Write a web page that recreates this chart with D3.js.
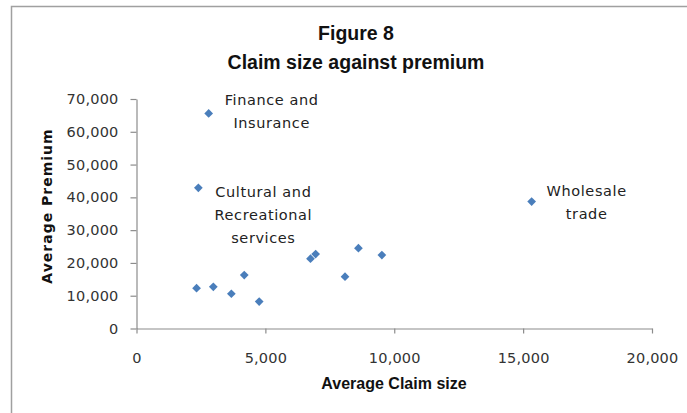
<!DOCTYPE html>
<html>
<head>
<meta charset="utf-8">
<script src="https://cdn.jsdelivr.net/npm/d3@7"></script>
<style>
  html, body { margin: 0; padding: 0; background: #fff; }
  svg { display: block; }
</style>
</head>
<body>
<svg id="chart" width="687" height="413"></svg>
<script>
// Average claim size vs. average premium by industry
const claimSize = [2800, 2400, 15330, 2330, 2980, 3680, 4180, 4760, 6750, 6950, 8090, 8610, 9520];
const premium   = [65600, 42900, 38700, 12300, 12700, 10600, 16300, 8200, 21300, 22700, 15800, 24500, 22400];

// Labelled outliers: index into the arrays above, label lines
const labelIndex = [0, 1, 2];
const labelLines = [
  ["Finance and", "Insurance"],
  ["Cultural and", "Recreational", "services"],
  ["Wholesale", "trade"]
];

const xTicks = [0, 5000, 10000, 15000, 20000];
const yTicks = [0, 10000, 20000, 30000, 40000, 50000, 60000, 70000];

const titleLines = ["Figure 8", "Claim size against premium"];
const xTitle = "Average Claim size";
const yTitle = "Average Premium";

const svg = d3.select("#chart");

// chart frame (runs past right/bottom edges)
svg.append("rect")
  .attr("x", 11.5).attr("y", 6.5)
  .attr("width", 700).attr("height", 420)
  .attr("fill", "#fff")
  .attr("stroke", "#a0a0a0").attr("stroke-width", 1.5);

const x = d3.scaleLinear().domain([0, 20000]).range([136.5, 652]);
const y = d3.scaleLinear().domain([0, 70000]).range([328.5, 99]);

const fmt = d3.format(",");
const tickFont = "'DejaVu Sans', sans-serif";
const axisColor = "#8c8c8c";

// y axis
const gy = svg.append("g")
  .attr("transform", `translate(${x(0)},0)`)
  .call(d3.axisLeft(y).tickValues(yTicks).tickFormat(fmt).tickSize(6).tickPadding(12).tickSizeOuter(0));
// x axis
const gx = svg.append("g")
  .attr("transform", `translate(0,${y(0)})`)
  .call(d3.axisBottom(x).tickValues(xTicks).tickFormat(fmt).tickSize(5).tickPadding(19).tickSizeOuter(0));

[gx, gy].forEach(g => {
  g.select(".domain").attr("stroke", axisColor).attr("stroke-width", 1.2);
  g.selectAll(".tick line").attr("stroke", axisColor).attr("stroke-width", 1.2);
  g.selectAll(".tick text")
    .attr("fill", "#333")
    .style("font-family", tickFont)
    .style("font-size", "14.5px")
    .style("letter-spacing", "0.2px");
});

// points: diamond markers
svg.append("g")
  .selectAll("path")
  .data(claimSize.map((c, i) => [c, premium[i]]))
  .join("path")
  .attr("d", d3.symbol().type(d3.symbolSquare).size(38))
  .attr("transform", d => `translate(${x(d[0])},${y(d[1])}) rotate(45)`)
  .attr("fill", "#4a7ebb");

// data labels for outliers
const labelOffsets = [[63, -14], [65, 4], [55, -10.5]];
const lg = svg.append("g")
  .style("font-family", tickFont)
  .style("font-size", "14.5px")
  .style("letter-spacing", "0.6px")
  .attr("fill", "#222");
labelIndex.forEach((idx, k) => {
  const cx = x(claimSize[idx]) + labelOffsets[k][0];
  const cy = y(premium[idx]) + labelOffsets[k][1];
  const t = lg.append("text").attr("text-anchor", "middle");
  labelLines[k].forEach((line, j) => {
    t.append("tspan").attr("x", cx).attr("y", cy + j * 23).attr("dy", "0.35em").text(line);
  });
});

// titles
const titleFont = "'Liberation Sans', Arial, sans-serif";
titleLines.forEach((line, i) => {
  svg.append("text")
    .attr("x", 356).attr("y", 33 + i * 29).attr("dy", "0.35em")
    .attr("text-anchor", "middle")
    .style("font-family", titleFont).style("font-weight", "bold").style("font-size", "19.5px")
    .attr("fill", "#111")
    .text(line);
});

// axis titles
svg.append("text")
  .attr("x", 394).attr("y", 383).attr("dy", "0.35em")
  .attr("text-anchor", "middle")
  .style("font-family", titleFont).style("font-weight", "bold").style("font-size", "16px")
  .attr("fill", "#111")
  .text(xTitle);
svg.append("text")
  .attr("transform", "translate(47,206) rotate(-90)")
  .attr("dy", "0.35em")
  .attr("text-anchor", "middle")
  .style("font-family", tickFont).style("font-weight", "bold").style("font-size", "14px")
  .style("letter-spacing", "1px")
  .attr("fill", "#111")
  .text(yTitle);
</script>
</body>
</html>
